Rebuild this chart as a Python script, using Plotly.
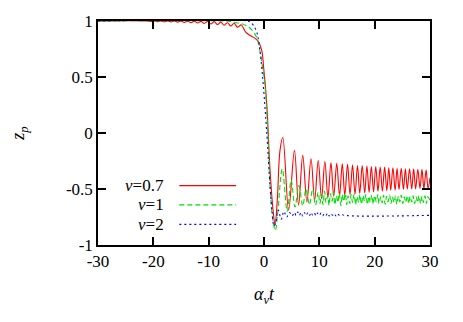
import plotly.graph_objects as go

# values (extrema of the oscillations)
t_07 = [-30, -21, -20.4, -19.8, -19.2, -18.6, -18.0, -17.4, -16.8, -16.2, -15.6, -15.0,
        -14.4, -13.8, -13.2, -12.6, -12.0, -11.4, -10.8, -10.2, -9.6, -9.0, -8.4, -7.8,
        -7.2, -6.6, -6.0, -5.4, -4.8, -4.1, -3.3, -2.5, -1.6, -1.0, -0.42, 0.0, 0.49,
        1.09, 1.7, 2.0, 2.4, 2.9, 3.4, 4.45, 5.5, 6.25, 7.0, 7.75, 8.5, 9.15, 9.8, 10.4,
        11.0, 11.55, 12.1, 12.6, 13.15, 13.65, 14.15, 14.6, 15.1, 15.55, 16.0, 16.45,
        16.9, 17.3, 17.75, 18.2, 18.6, 19.0, 19.4, 19.8, 20.2, 20.6, 21.0, 21.4, 21.8,
        22.2, 22.55, 22.9, 23.3, 23.7, 24.05, 24.4, 24.8, 25.2, 25.55, 25.9, 26.3, 26.7,
        27.05, 27.4, 27.8, 28.2, 28.55, 28.9, 29.3, 29.65, 30.0]
z_07 = [1.0, 1.0, 0.995, 1.0, 0.994, 1.0, 0.993, 1.0, 0.992, 1.0, 0.99, 0.999,
        0.988, 0.999, 0.985, 0.998, 0.982, 0.997, 0.978, 0.996, 0.973, 0.994, 0.968, 0.99,
        0.962, 0.985, 0.955, 0.98, 0.945, 0.965, 0.9, 0.87, 0.845, 0.815, 0.74, 0.55, 0.265,
        -0.33, -0.72, -0.82, -0.6, -0.15, -0.04, -0.69, -0.155, -0.645, -0.2, -0.615, -0.23,
        -0.6, -0.245, -0.585, -0.255, -0.575, -0.265, -0.565, -0.27, -0.56, -0.275, -0.555,
        -0.28, -0.55, -0.285, -0.545, -0.29, -0.54, -0.29, -0.535, -0.295, -0.53, -0.3,
        -0.525, -0.3, -0.52, -0.305, -0.52, -0.305, -0.515, -0.31, -0.51, -0.31, -0.51,
        -0.315, -0.505, -0.315, -0.505, -0.32, -0.5, -0.32, -0.5, -0.32, -0.5, -0.325,
        -0.495, -0.325, -0.495, -0.33, -0.495, -0.4]

t_1 = [-30, -7, -6, -5, -4, -3.1, -2.2, -1.3, -0.8, -0.3, 0.2, 0.7, 1.1, 1.6, 2.05,
       2.5, 3.3, 4.2, 4.9, 5.6, 6.3, 7.0, 7.6, 8.2, 8.8, 9.3, 9.8, 10.1, 10.4, 10.65,
       10.95, 11.2, 11.5, 11.75, 12.0, 12.3, 12.55, 12.8, 13.1, 13.35, 13.6, 13.9, 14.15,
       14.4, 14.7, 14.95, 15.2, 15.5, 15.75, 16.0, 16.3, 16.55, 16.8, 17.1, 17.35, 17.6,
       17.9, 18.15, 18.4, 18.7, 18.95, 19.2, 19.5, 19.75, 20.0, 20.3, 20.55, 20.8, 21.1,
       21.35, 21.6, 21.9, 22.15, 22.4, 22.7, 22.95, 23.2, 23.5, 23.75, 24.0, 24.3, 24.55,
       24.8, 25.1, 25.35, 25.6, 25.9, 26.15, 26.4, 26.7, 26.95, 27.2, 27.5, 27.75, 28.0,
       28.3, 28.55, 28.8, 29.1, 29.35, 29.6, 30.0]
z_1 = [1.0, 1.0, 0.995, 0.985, 0.975, 0.955, 0.92, 0.85, 0.75, 0.6, 0.41, 0.0, -0.48,
       -0.78, -0.87, -0.7, -0.32, -0.7, -0.42, -0.66, -0.47, -0.65, -0.5, -0.64, -0.5,
       -0.645, -0.53, -0.63, -0.55, -0.64, -0.52, -0.62, -0.56, -0.645, -0.54, -0.61,
       -0.53, -0.64, -0.56, -0.62, -0.54, -0.65, -0.55, -0.61, -0.54, -0.64, -0.56, -0.63,
       -0.55, -0.62, -0.545, -0.64, -0.57, -0.62, -0.55, -0.635, -0.56, -0.61, -0.55,
       -0.64, -0.565, -0.62, -0.555, -0.635, -0.56, -0.615, -0.55, -0.63, -0.57, -0.625,
       -0.555, -0.635, -0.565, -0.615, -0.555, -0.63, -0.57, -0.62, -0.56, -0.635, -0.565,
       -0.615, -0.555, -0.63, -0.57, -0.62, -0.56, -0.63, -0.565, -0.615, -0.56, -0.63,
       -0.57, -0.62, -0.56, -0.63, -0.565, -0.62, -0.56, -0.63, -0.57, -0.6]

t_2 = [-30, -3, -2.5, -1.9, -1.3, -1.0, -0.6, -0.1, 0.5, 1.1, 1.5, 1.8, 2.1, 2.6, 3.1,
       3.6, 4.1, 4.6, 5.1, 5.5, 5.8, 6.1, 6.4, 6.7, 7.0, 7.3, 7.6, 7.9, 8.2, 8.5, 8.8,
       9.1, 9.4, 9.7, 10.0, 10.3, 10.6, 10.9, 11.2, 11.5, 11.8, 12.1, 12.4, 12.7, 13.0,
       13.3, 13.6, 14.0, 14.5, 30.0]
z_2 = [1.0, 1.0, 0.99, 0.96, 0.9, 0.83, 0.68, 0.41, 0.0, -0.48, -0.72, -0.83, -0.8,
       -0.69, -0.77, -0.7, -0.75, -0.71, -0.74, -0.71, -0.735, -0.705, -0.735, -0.71,
       -0.74, -0.71, -0.735, -0.715, -0.74, -0.71, -0.735, -0.715, -0.74, -0.715, -0.735,
       -0.715, -0.74, -0.72, -0.735, -0.715, -0.74, -0.72, -0.735, -0.72, -0.74, -0.72,
       -0.735, -0.725, -0.735, -0.735]

names = ["<i>ν</i>=0.7", "<i>ν</i>=1", "<i>ν</i>=2"]
colors = ["#ff0000", "#00dd00", "#0000ff"]
dashes = ["solid", "5px,3px", "2px,3px"]

FONT = "Liberation Serif, Times New Roman, serif"

fig = go.Figure()
for t, z, c, d in zip([t_07, t_1, t_2], [z_07, z_1, z_2], colors, dashes):
    fig.add_trace(go.Scatter(x=t, y=z, mode="lines", line_shape="spline",
                             line=dict(color=c, width=1.1, dash=d), showlegend=False))

# gnuplot-style key: text on the left, line sample on the right
key_y = [0.265, 0.179, 0.092]
for name, c, d, ky in zip(names, colors, dashes, key_y):
    fig.add_annotation(x=0.205, y=ky, xref="paper", yref="paper", text=name,
                       showarrow=False, xanchor="right", yanchor="middle",
                       font=dict(family=FONT, size=17, color="black"))
    fig.add_shape(type="line", xref="paper", yref="paper", x0=0.245, x1=0.416,
                  y0=ky, y1=ky, line=dict(color=c, width=1.1, dash=d))

ax = dict(showline=True, linecolor="black", linewidth=1.5, mirror="ticks",
          ticks="inside", ticklen=8, tickwidth=1.5, tickcolor="black",
          showgrid=False, zeroline=False, automargin=False,
          tickfont=dict(family=FONT, size=17, color="black"))

# the page body keeps its 8px margin, so the figure is 8px smaller
fig.update_layout(
    width=455, height=314,
    margin=dict(l=90, r=33, t=13, b=77),
    font=dict(family=FONT),
    plot_bgcolor="white", paper_bgcolor="white",
    xaxis=dict(range=[-30, 30], tickvals=[-30, -20, -10, 0, 10, 20, 30],
               ticktext=["-30", "-20", "-10", "0", "10", "20", "30"],
               title=dict(text="<i>α<sub>ν</sub>t</i>", standoff=17,
                          font=dict(family=FONT, size=18, color="black")), **ax),
    yaxis=dict(range=[-1, 1], tickvals=[-1, -0.5, 0, 0.5, 1],
               ticktext=["-1", "-0.5", "0", "0.5", "1"],
               title=dict(text="<i>z<sub>p</sub></i>", standoff=37,
                          font=dict(family=FONT, size=18, color="black")), **ax),
)

fig.write_html("out.html")
